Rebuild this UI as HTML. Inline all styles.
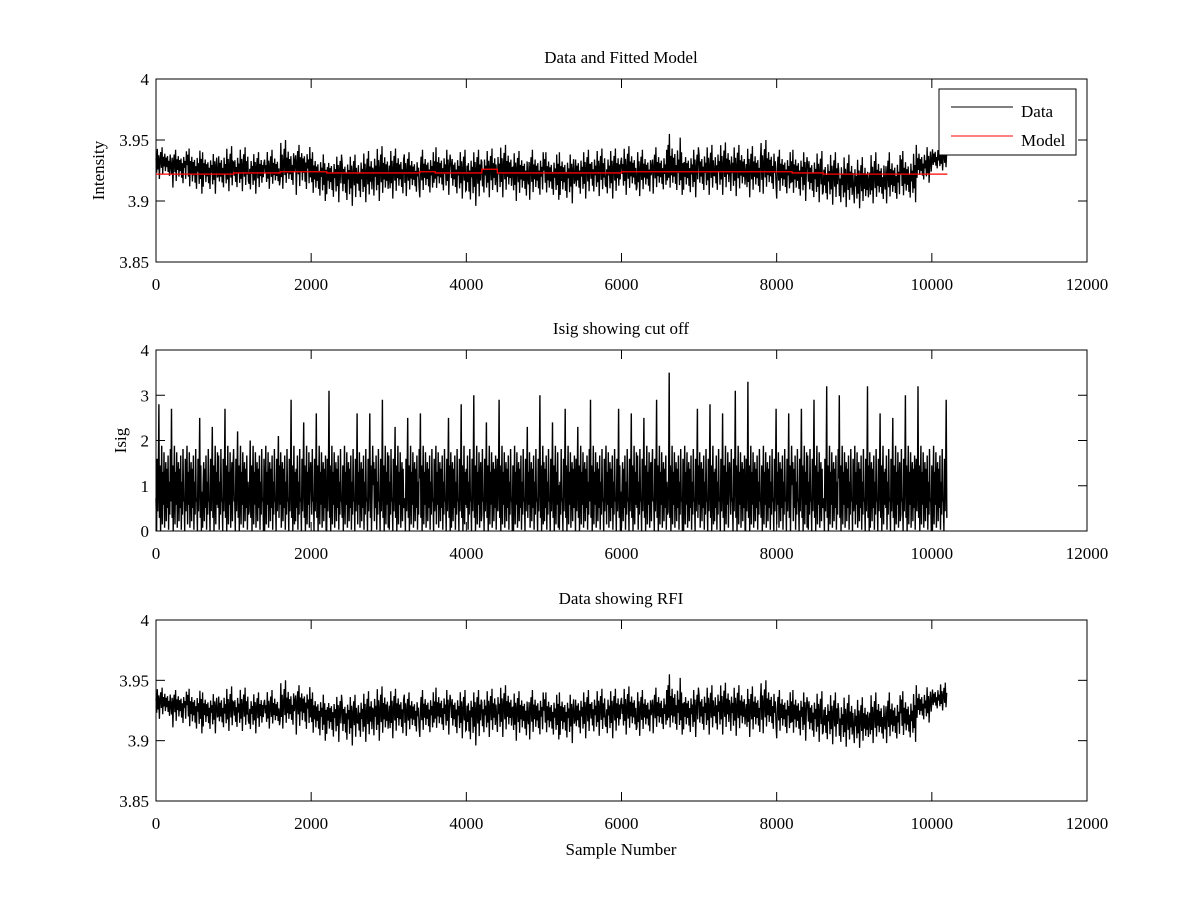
<!DOCTYPE html>
<html><head><meta charset="utf-8"><style>
body{margin:0;background:#fff}
svg text{font-family:"Liberation Serif",serif;font-size:17px;fill:#000}
</style></head><body>
<svg id="c" width="1200" height="900"></svg>
<script>
// data per 200-sample bin, starting at sample 0 (51 bins up to 10200)
const binStarts=[];for(let i=0;i<51;i++)binStarts.push(i*200);
const intensityMean=[3.931,3.929,3.926,3.925,3.924,3.925,3.924,3.924,3.926,3.929,3.922,3.921,3.920,3.920,3.922,3.923,3.922,3.923,3.924,3.923,3.922,3.923,3.924,3.922,3.922,3.921,3.921,3.922,3.923,3.923,3.924,3.923,3.924,3.925,3.924,3.925,3.926,3.925,3.924,3.925,3.923,3.922,3.920,3.918,3.915,3.914,3.916,3.917,3.918,3.928,3.934];
const intensityHi=[3.944,3.942,3.943,3.940,3.945,3.944,3.940,3.942,3.950,3.946,3.940,3.938,3.938,3.941,3.945,3.943,3.940,3.942,3.944,3.942,3.942,3.943,3.946,3.941,3.942,3.940,3.940,3.942,3.943,3.943,3.945,3.942,3.944,3.955,3.944,3.946,3.948,3.946,3.945,3.950,3.942,3.942,3.941,3.940,3.938,3.936,3.940,3.940,3.941,3.946,3.948];
const intensityLo=[3.918,3.911,3.906,3.906,3.908,3.908,3.906,3.910,3.910,3.905,3.900,3.899,3.896,3.899,3.900,3.902,3.904,3.903,3.905,3.902,3.896,3.903,3.903,3.900,3.901,3.901,3.898,3.902,3.904,3.902,3.905,3.904,3.906,3.905,3.903,3.905,3.905,3.904,3.903,3.906,3.902,3.900,3.899,3.897,3.895,3.894,3.898,3.898,3.899,3.915,3.925];
const modelLevel=[3.922,3.922,3.922,3.922,3.922,3.923,3.923,3.923,3.924,3.924,3.924,3.923,3.923,3.923,3.923,3.923,3.923,3.924,3.923,3.923,3.923,3.926,3.923,3.923,3.923,3.923,3.923,3.923,3.923,3.923,3.924,3.924,3.924,3.924,3.924,3.924,3.924,3.924,3.924,3.924,3.924,3.923,3.923,3.922,3.922,3.922,3.922,3.922,3.922,3.922,3.922];
const isigHi=[2.8,2.7,2.5,2.3,2.7,2.2,2.0,2.1,2.9,2.4,2.6,3.1,2.6,2.6,2.9,2.3,2.5,2.6,2.5,2.8,3.0,2.4,2.9,2.3,3.0,2.4,2.7,2.3,2.9,2.7,2.6,2.5,2.9,3.5,2.7,2.8,2.6,3.1,3.3,2.7,2.6,2.7,2.9,3.2,3.0,3.2,2.6,2.5,3.0,3.2,2.9];
const xTicks=[0,2000,4000,6000,8000,10000,12000];
const yTicksI=[3.85,3.9,3.95,4];const yTickLabelsI=['3.85','3.9','3.95','4'];
const yTicksS=[0,1,2,3,4];
const legendLabels=['Data','Model'];

const NS='http://www.w3.org/2000/svg',svg=document.getElementById('c');
function el(t,a,p){const e=document.createElementNS(NS,t);for(const k in a)e.setAttribute(k,a[k]);(p||svg).appendChild(e);return e;}
const L=156,R=1087;
const sx=v=>L+(v/12000)*(R-L);
const pat=[0.3,-0.6,0.9,-0.4,0.5,-1,0.2,0.7,-0.3,1,-0.7,0.4,-0.2,0.6,-0.5,0.35,-0.25,0.45,-0.55,0.15,-0.8,0.55,-0.1];
const ipat=[0.5,0,1.1,0.3,0.8,-1,0.2,1.0,0,0.6,1.3,0.1,0.9,0.4,1.2,0.05,0.7,1.05,0.15,0.95,0.35,1.15,0.02,0.75,0.25,1.25,0.45];

function axes(g,top,bot,yt,ylabs,ymin,ymax,title,ytitle,ytx){
  const sy=v=>bot-(v-ymin)/(ymax-ymin)*(bot-top);
  const f=el('rect',{x:L,y:top,width:R-L,height:bot-top,fill:'none',stroke:'#000','stroke-width':1},g);
  
  xTicks.forEach(v=>{const x=sx(v);
    el('line',{x1:x,x2:x,y1:bot,y2:bot-9,stroke:'#000'},g);el('line',{x1:x,x2:x,y1:top,y2:top+9,stroke:'#000'},g);
    const t=el('text',{x:x,y:bot+28,'text-anchor':'middle'},g);t.textContent=v;
    });
  yt.forEach((v,i)=>{const y=sy(v);
    el('line',{x1:L,x2:L+9,y1:y,y2:y,stroke:'#000'},g);el('line',{x1:R,x2:R-9,y1:y,y2:y,stroke:'#000'},g);
    const t=el('text',{x:L-7,y:y+6,'text-anchor':'end'},g);t.textContent=ylabs[i];
    });
  const tt=el('text',{x:621,y:top-16,'text-anchor':'middle'},g);tt.textContent=title;
  
  const yl=el('text',{x:ytx,y:(top+bot)/2,'text-anchor':'middle',transform:`rotate(-90 ${ytx} ${(top+bot)/2})`},g);yl.textContent=ytitle;
  
  return sy;
}
function dataLine(g,sy){
  let pts=[];
  binStarts.forEach((b,i)=>{const x0=sx(b),x1=sx(b+200),n=pat.length;
    for(let k=0;k<n;k++){const p=pat[(k+i*3)%n];const m=intensityMean[i];
      const v=p>0?m+p*(intensityHi[i]-m):m+(-p)*(intensityLo[i]-m);
      pts.push((x0+(x1-x0)*k/n).toFixed(1)+','+sy(v).toFixed(1));}});
  const pl=el('polyline',{points:pts.join(' '),fill:'none',stroke:'#000','stroke-width':1.3},g);
  
}
// panel 1
const g1=el('g',{});
const sy1=axes(g1,79,262,yTicksI,yTickLabelsI,3.85,4,'Data and Fitted Model','Intensity',104);
dataLine(g1,sy1);
let mp=[];binStarts.forEach((b,i)=>{mp.push(sx(b)+','+sy1(modelLevel[i]));mp.push(sx(b+200)+','+sy1(modelLevel[i]));});
const ml=el('polyline',{points:mp.join(' '),fill:'none',stroke:'#f00','stroke-width':1.3},g1);

const lg=el('g',{},g1);
el('rect',{x:939,y:89,width:137,height:66,fill:'#fff',stroke:'#000'},lg);
[['#000',107],['#f00',136]].forEach((c,i)=>{
  el('line',{x1:951,x2:1013,y1:c[1],y2:c[1],stroke:c[0]},lg);
  const t=el('text',{x:1021,y:c[1]+10},lg);t.textContent=legendLabels[i];
  });
// panel 2
const g2=el('g',{});
const sy2=axes(g2,350,531,yTicksS,yTicksS.map(String),0,4,'Isig showing cut off','Isig',126);
let ip=[];
binStarts.forEach((b,i)=>{const x0=sx(b),x1=sx(b+200),n=ipat.length;
  for(let k=0;k<n;k++){const q=ipat[(k+i*5)%n];const v=q<0?isigHi[i]:q*1.45;
    ip.push((x0+(x1-x0)*k/n).toFixed(1)+','+sy2(v).toFixed(1));}});
const il=el('polyline',{points:ip.join(' '),fill:'none',stroke:'#000','stroke-width':1.4},g2);

// panel 3
const g3=el('g',{});
const sy3=axes(g3,620,801,yTicksI,yTickLabelsI,3.85,4,'Data showing RFI','',104);
dataLine(g3,sy3);
const xl=el('text',{x:621,y:855,'text-anchor':'middle'});xl.textContent='Sample Number';

</script>
</body></html>
